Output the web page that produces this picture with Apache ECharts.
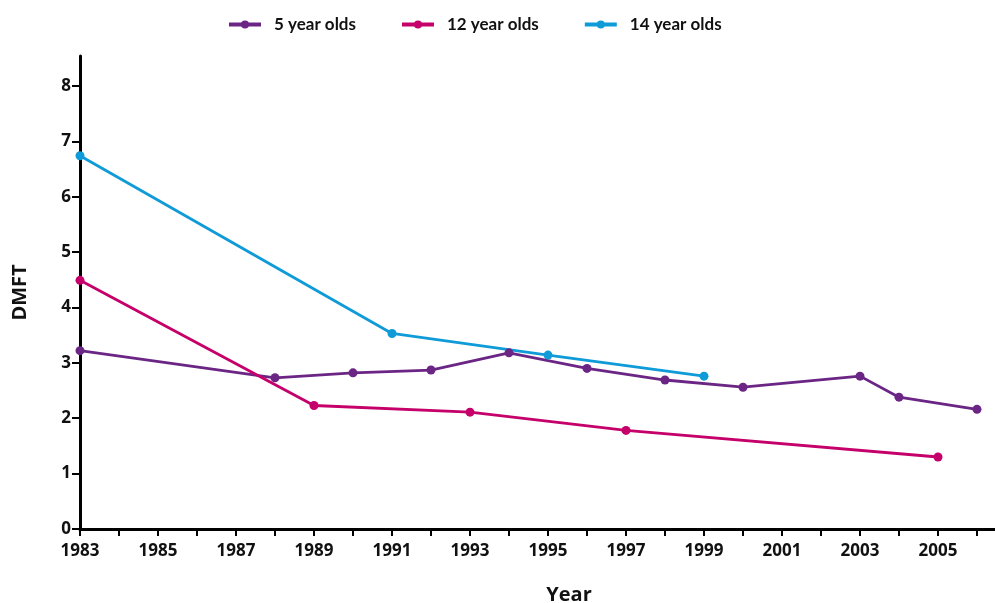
<!DOCTYPE html>
<html>
<head>
<meta charset="utf-8">
<script src="https://cdn.jsdelivr.net/npm/echarts@6/dist/echarts.min.js"></script>
<style>
html,body{margin:0;padding:0;background:#fff;}
#chart{width:995px;height:603px;}
</style>
</head>
<body>
<div id="chart"></div>
<script>
const seriesNames = ['5 year olds', '12 year olds', '14 year olds'];
const years5 = [1983, 1988, 1990, 1992, 1994, 1996, 1998, 2000, 2003, 2004, 2006];
const dmft5 = [3.22, 2.73, 2.82, 2.87, 3.18, 2.90, 2.69, 2.56, 2.76, 2.38, 2.16];
const years12 = [1983, 1989, 1993, 1997, 2005];
const dmft12 = [4.49, 2.23, 2.11, 1.78, 1.30];
const years14 = [1983, 1991, 1995, 1999];
const dmft14 = [6.74, 3.53, 3.14, 2.76];
const xTickValues = [1983,1984,1985,1986,1987,1988,1989,1990,1991,1992,1993,1994,1995,1996,1997,1998,1999,2000,2001,2002,2003,2004,2005,2006];
const xLabelValues = [1983,1985,1987,1989,1991,1993,1995,1997,1999,2001,2003,2005];
const yTickValues = [0,1,2,3,4,5,6,7,8];
const colors = ['#6b2585', '#c5006a', '#0f9bd7'];

const pair = (xs, ys) => xs.map((x, i) => [x, ys[i]]);
const font = '"Open Sans", "DejaVu Sans", sans-serif';
const legendFont = 'Lato, "Open Sans", sans-serif';

const chart = echarts.init(document.getElementById('chart'), null, {renderer: 'canvas'});
const mk = (name, data, color) => ({
  name: name,
  type: 'line',
  data: data,
  symbol: 'circle',
  symbolSize: 9,
  color: color,
  lineStyle: {width: 2.8, color: color},
  itemStyle: {color: color},
  emphasis: {disabled: true},
  animation: false
});

chart.setOption({
  animation: false,
  backgroundColor: '#fff',
  legend: {
    top: 11,
    left: 222,
    itemWidth: 32,
    itemHeight: 10,
    itemGap: 44,
    lineStyle: {width: 4},
    textStyle: {fontFamily: legendFont, fontWeight: 'bold', fontSize: 17, color: '#111', padding: [0, 0, 0, 8]},
    data: seriesNames
  },
  grid: {left: 80, right: -5, top: 56, bottom: 74, containLabel: false, outerBoundsMode: 'none'},
  xAxis: {
    type: 'value',
    min: 1983,
    max: 2006.59,
    name: 'Year',
    nameLocation: 'middle',
    nameGap: 56,
    nameTextStyle: {fontFamily: font, fontWeight: 'bold', fontSize: 20, color: '#111', padding: [0, 0, 0, 58]},
    axisLine: {show: true, lineStyle: {color: '#000', width: 3}},
    axisTick: {show: true, length: 7, lineStyle: {color: '#000', width: 2}, customValues: xTickValues},
    axisLabel: {
      fontFamily: font, fontWeight: 'bold', fontSize: 17, color: '#111', margin: 14,
      customValues: xLabelValues,
      formatter: v => String(v)
    },
    splitLine: {show: false}
  },
  yAxis: {
    type: 'value',
    min: 0,
    max: 8.54,
    name: 'DMFT',
    nameLocation: 'middle',
    nameGap: 50,
    nameRotate: 90,
    nameTextStyle: {fontFamily: font, fontWeight: 'bold', fontSize: 20, color: '#111'},
    axisLine: {show: true, lineStyle: {color: '#000', width: 3}},
    axisTick: {show: true, length: 8, lineStyle: {color: '#000', width: 2}, customValues: yTickValues},
    axisLabel: {
      fontFamily: font, fontWeight: 'bold', fontSize: 17, color: '#111', margin: 9,
      customValues: yTickValues
    },
    splitLine: {show: false}
  },
  series: [
    mk(seriesNames[0], pair(years5, dmft5), colors[0]),
    mk(seriesNames[1], pair(years12, dmft12), colors[1]),
    mk(seriesNames[2], pair(years14, dmft14), colors[2])
  ]
});
</script>
</body>
</html>
